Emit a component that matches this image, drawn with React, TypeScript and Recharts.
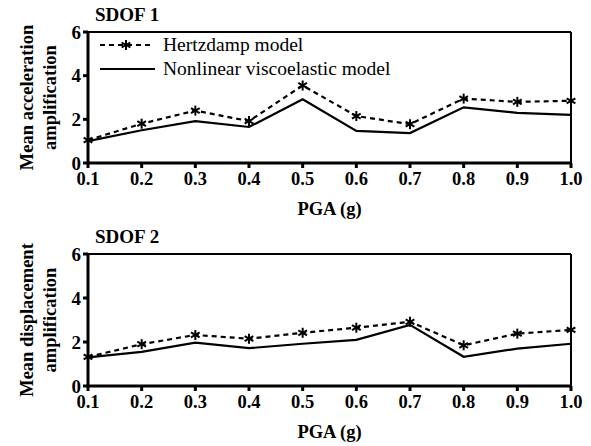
import { LineChart, Line, XAxis, YAxis, ReferenceLine } from "recharts";

const pga = [0.1, 0.2, 0.3, 0.4, 0.5, 0.6, 0.7, 0.8, 0.9, 1.0];
const xTicks = [0.1, 0.2, 0.3, 0.4, 0.5, 0.6, 0.7, 0.8, 0.9, 1.0];
const yTicks = [0, 2, 4, 6];

const accHertz = [1.05, 1.8, 2.4, 1.92, 3.55, 2.15, 1.78, 2.95, 2.8, 2.85];
const accNonlin = [1.0, 1.5, 1.92, 1.65, 2.92, 1.47, 1.37, 2.55, 2.3, 2.2];

const dispHertz = [1.32, 1.9, 2.32, 2.15, 2.42, 2.65, 2.92, 1.85, 2.38, 2.55];
const dispNonlin = [1.3, 1.55, 1.97, 1.72, 1.92, 2.1, 2.78, 1.33, 1.7, 1.92];

const FONT = "'Liberation Serif', 'Times New Roman', Times, serif";

const toRows = (a: number[], b: number[]) =>
  pga.map((x, i) => ({ pga: x, hertz: a[i], nonlin: b[i] }));

const Star = (props: any) => {
  const { cx, cy } = props;
  if (cx == null || cy == null) return null;
  const r = 5;
  return (
    <g stroke="#000" strokeWidth={2}>
      <line x1={cx} y1={cy - r} x2={cx} y2={cy + r} />
      <line x1={cx - r * 0.87} y1={cy - r / 2} x2={cx + r * 0.87} y2={cy + r / 2} />
      <line x1={cx - r * 0.87} y1={cy + r / 2} x2={cx + r * 0.87} y2={cy - r / 2} />
    </g>
  );
};

const LegendBox = () => (
  <svg width={330} height={50} style={{ display: "block" }}>
    <line x1={5} y1={10} x2={58} y2={10} stroke="#000" strokeWidth={2.2} strokeDasharray="5 4" />
    <Star cx={31} cy={10} />
    <text x={68} y={16} fontFamily={FONT} fontSize={19.5}>Hertzdamp model</text>
    <line x1={5} y1={34} x2={60} y2={34} stroke="#000" strokeWidth={2.2} />
    <text x={68} y={40} fontFamily={FONT} fontSize={19.5}>Nonlinear viscoelastic model</text>
  </svg>
);

const YLabel = (lines: string[]) => (props: any) => {
  const { viewBox } = props;
  const cy = viewBox.y + viewBox.height / 2;
  return (
    <g>
      {lines.map((t, i) => (
        <text
          key={i}
          x={0}
          y={0}
          transform={`translate(${29 + i * 23}, ${cy}) rotate(-90)`}
          textAnchor="middle"
          fontFamily={FONT}
          fontSize={18.5}
          fontWeight="bold"
          dominantBaseline="middle"
        >
          {t}
        </text>
      ))}
    </g>
  );
};

interface PanelProps {
  title: string;
  ylabel: string[];
  data: { pga: number; hertz: number; nonlin: number }[];
  height: number;
  top: number;
  xAxisHeight: number;
  showLegend?: boolean;
}

function Panel({ title, ylabel, data, height, top, xAxisHeight, showLegend }: PanelProps) {
  return (
    <div style={{ position: "relative", width: 591, height }}>
      <div
        style={{
          position: "absolute",
          left: 95,
          top: top - 28,
          fontFamily: FONT,
          fontSize: 19,
          fontWeight: "bold",
          lineHeight: "22px",
        }}
      >
        {title}
      </div>
      {showLegend && (
        <div style={{ position: "absolute", left: 95, top: top + 3, zIndex: 1 }}>
          <LegendBox />
        </div>
      )}
      <LineChart width={591} height={height} data={data} margin={{ top, right: 20, bottom: 0, left: 0 }}>
        <XAxis
          dataKey="pga"
          type="number"
          domain={[0.1, 1.0]}
          ticks={xTicks}
          tickFormatter={(v: number) => v.toFixed(1)}
          stroke="#000"
          strokeWidth={3}
          tickSize={5}
          height={xAxisHeight}
          tick={{ fill: "#000", fontFamily: FONT, fontSize: 18.5, fontWeight: "bold", dy: 2 }}
          interval={0}
          label={{
            value: "PGA (g)",
            position: "insideBottom",
            offset: xAxisHeight - 52,
            fill: "#000",
            fontFamily: FONT,
            fontSize: 18.5,
            fontWeight: "bold",
          }}
        />
        <YAxis
          domain={[0, 6]}
          ticks={yTicks}
          stroke="#000"
          strokeWidth={3}
          tickSize={5}
          width={88}
          tick={{ fill: "#000", fontFamily: FONT, fontSize: 19, fontWeight: "bold" }}
          label={{ content: YLabel(ylabel) }}
        />
        <ReferenceLine y={6} stroke="#000" strokeWidth={2} ifOverflow="visible" />
        <ReferenceLine x={1.0} stroke="#000" strokeWidth={2} ifOverflow="visible" />
        <Line
          dataKey="hertz"
          stroke="#000"
          strokeWidth={2.2}
          strokeDasharray="5 4"
          dot={<Star />}
          activeDot={false}
          isAnimationActive={false}
        />
        <Line
          dataKey="nonlin"
          stroke="#000"
          strokeWidth={2.2}
          dot={false}
          activeDot={false}
          isAnimationActive={false}
        />
      </LineChart>
    </div>
  );
}

export default function App() {
  return (
    <div style={{ position: "absolute", left: 0, top: 0, width: 591, height: 446, background: "#fff" }}>
      <Panel
        title="SDOF 1"
        ylabel={["Mean acceleration", "amplification"]}
        data={toRows(accHertz, accNonlin)}
        height={220}
        top={32}
        xAxisHeight={57}
        showLegend
      />
      <Panel
        title="SDOF 2"
        ylabel={["Mean displacement", "amplification"]}
        data={toRows(dispHertz, dispNonlin)}
        height={226}
        top={34}
        xAxisHeight={60}
      />
    </div>
  );
}
